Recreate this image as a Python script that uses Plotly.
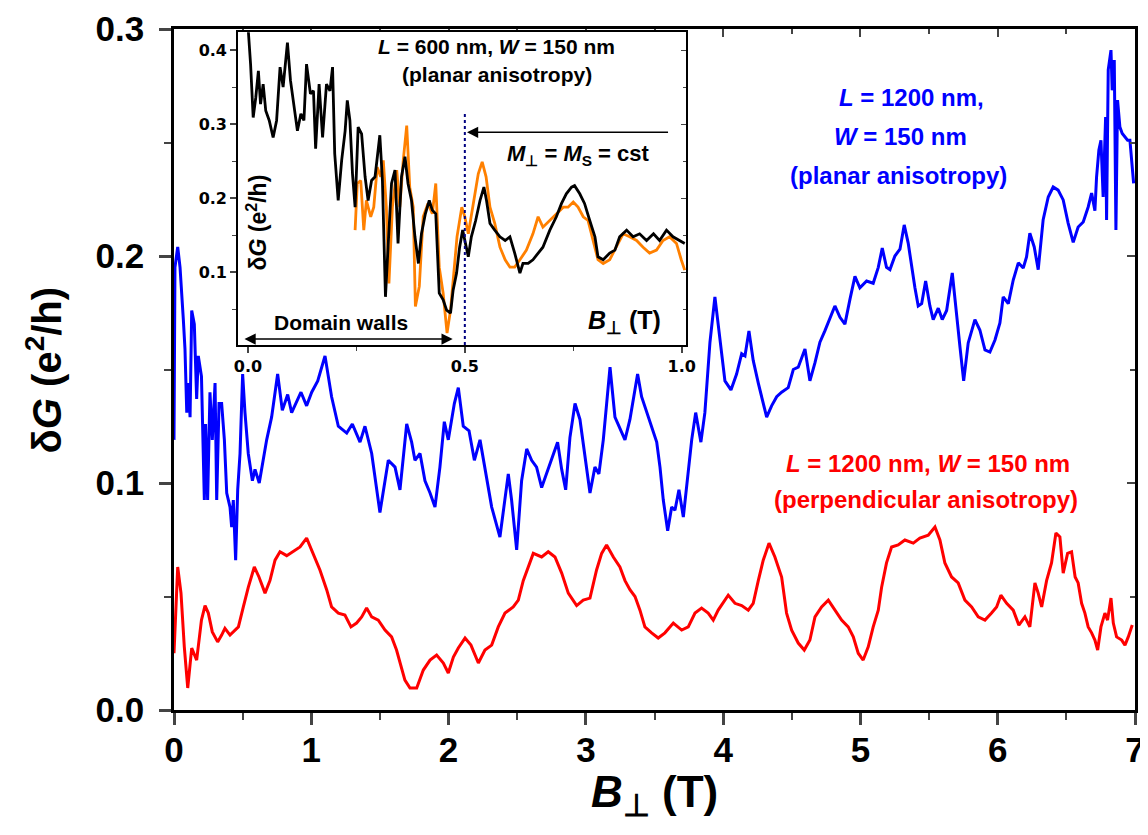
import plotly.graph_objects as go

# ---------------- main panel data ----------------
blue_B = [0.0, 0.007, 0.027, 0.044, 0.068, 0.08, 0.093, 0.105, 0.117, 0.129, 0.148, 0.165, 0.177, 0.2, 0.221, 0.23,
          0.245, 0.262, 0.279, 0.299, 0.311, 0.328, 0.347, 0.367, 0.384, 0.408, 0.42, 0.432, 0.449, 0.464, 0.481, 0.5,
          0.517, 0.541, 0.571, 0.59, 0.621, 0.65, 0.675, 0.711, 0.755, 0.789, 0.828, 0.857, 0.925, 0.966, 1.003, 1.047,
          1.1, 1.148, 1.197, 1.258, 1.299, 1.355, 1.391, 1.44, 1.5, 1.561, 1.61, 1.646, 1.695, 1.731, 1.755, 1.792,
          1.828, 1.865, 1.901, 1.937, 1.969, 1.998, 2.042, 2.071, 2.107, 2.149, 2.188, 2.229, 2.265, 2.314, 2.374,
          2.398, 2.435, 2.459, 2.496, 2.532, 2.569, 2.605, 2.641, 2.678, 2.714, 2.751, 2.794, 2.824, 2.853, 2.884,
          2.921, 2.957, 2.989, 3.03, 3.066, 3.095, 3.127, 3.176, 3.212, 3.285, 3.321, 3.377, 3.406, 3.443, 3.479,
          3.516, 3.54, 3.564, 3.596, 3.625, 3.649, 3.678, 3.71, 3.746, 3.771, 3.8, 3.838, 3.867, 3.904, 3.94, 3.977,
          4.013, 4.057, 4.098, 4.135, 4.159, 4.188, 4.219, 4.256, 4.292, 4.317, 4.353, 4.39, 4.426, 4.474, 4.511,
          4.547, 4.596, 4.632, 4.669, 4.705, 4.741, 4.778, 4.814, 4.851, 4.887, 4.924, 4.96, 4.996, 5.045, 5.093,
          5.13, 5.159, 5.19, 5.215, 5.251, 5.288, 5.319, 5.348, 5.373, 5.397, 5.421, 5.446, 5.475, 5.506, 5.53,
          5.567, 5.596, 5.628, 5.669, 5.701, 5.725, 5.752, 5.785, 5.834, 5.87, 5.907, 5.943, 5.98, 6.016, 6.04,
          6.077, 6.113, 6.15, 6.186, 6.21, 6.234, 6.266, 6.295, 6.331, 6.368, 6.404, 6.44, 6.477, 6.513, 6.55,
          6.586, 6.623, 6.659, 6.684, 6.708, 6.72, 6.737, 6.752, 6.768, 6.786, 6.793, 6.805, 6.825, 6.834, 6.849,
          6.861, 6.873, 6.89, 6.907, 6.927, 6.946, 6.963, 6.975, 6.99]
blue_G = [0.119, 0.195, 0.204, 0.195, 0.172, 0.159, 0.131, 0.144, 0.129, 0.176, 0.170, 0.137, 0.156, 0.147, 0.0925,
          0.126, 0.0925, 0.140, 0.119, 0.144, 0.0925, 0.135, 0.135, 0.119, 0.0956, 0.0894, 0.0806, 0.0925, 0.066,
          0.097, 0.113, 0.148, 0.131, 0.113, 0.101, 0.106, 0.100, 0.110, 0.119, 0.129, 0.148, 0.132, 0.139, 0.131,
          0.140, 0.134, 0.140, 0.145, 0.156, 0.138, 0.125, 0.122, 0.126, 0.118, 0.125, 0.113, 0.087, 0.110, 0.107,
          0.097, 0.126, 0.118, 0.110, 0.113, 0.101, 0.0956, 0.0894, 0.107, 0.127, 0.119, 0.135, 0.142, 0.125, 0.123,
          0.110, 0.119, 0.107, 0.0894, 0.0762, 0.0867, 0.104, 0.0925, 0.0705, 0.101, 0.115, 0.110, 0.107, 0.098,
          0.104, 0.111, 0.118, 0.106, 0.097, 0.120, 0.135, 0.128, 0.113, 0.0956, 0.107, 0.104, 0.119, 0.151, 0.129,
          0.119, 0.128, 0.148, 0.138, 0.131, 0.125, 0.118, 0.107, 0.0925, 0.079, 0.0894, 0.088, 0.097, 0.085, 0.107,
          0.119, 0.131, 0.118, 0.131, 0.162, 0.182, 0.162, 0.145, 0.141, 0.148, 0.157, 0.156, 0.167, 0.154, 0.144,
          0.135, 0.129, 0.134, 0.138, 0.140, 0.142, 0.150, 0.151, 0.159, 0.145, 0.153, 0.162, 0.167, 0.173, 0.178,
          0.173, 0.170, 0.181, 0.191, 0.186, 0.189, 0.188, 0.195, 0.2035, 0.195, 0.194, 0.200, 0.203, 0.2137, 0.2057,
          0.195, 0.186, 0.178, 0.179, 0.189, 0.178, 0.172, 0.177, 0.172, 0.176, 0.1925, 0.172, 0.160, 0.145, 0.1617,
          0.172, 0.1674, 0.1586, 0.1577, 0.163, 0.1705, 0.182, 0.179, 0.1894, 0.197, 0.1947, 0.1996, 0.210, 0.204,
          0.194, 0.216, 0.226, 0.2304, 0.229, 0.2247, 0.2145, 0.206, 0.2128, 0.215, 0.2216, 0.2277, 0.220, 0.2348,
          0.2467, 0.251, 0.226, 0.2612, 0.2159, 0.282, 0.2907, 0.273, 0.2863, 0.2115, 0.2687, 0.2568, 0.254, 0.2524,
          0.251, 0.251, 0.241, 0.232]

red_B = [0.0, 0.027, 0.051, 0.075, 0.1, 0.129, 0.165, 0.2, 0.226, 0.25, 0.279, 0.318, 0.347, 0.371, 0.408, 0.432,
         0.469, 0.505, 0.541, 0.585, 0.619, 0.663, 0.699, 0.736, 0.772, 0.821, 0.869, 0.918, 0.966, 1.015, 1.063,
         1.112, 1.148, 1.197, 1.245, 1.289, 1.33, 1.367, 1.403, 1.44, 1.488, 1.537, 1.585, 1.621, 1.646, 1.682, 1.719,
         1.768, 1.816, 1.865, 1.913, 1.962, 1.998, 2.035, 2.071, 2.12, 2.163, 2.217, 2.265, 2.314, 2.362, 2.411,
         2.471, 2.508, 2.544, 2.581, 2.617, 2.678, 2.726, 2.775, 2.824, 2.872, 2.933, 2.981, 3.03, 3.078, 3.115,
         3.151, 3.2, 3.248, 3.285, 3.321, 3.358, 3.394, 3.43, 3.479, 3.527, 3.576, 3.637, 3.698, 3.746, 3.795, 3.843,
         3.891, 3.928, 3.964, 4.037, 4.086, 4.135, 4.183, 4.219, 4.256, 4.292, 4.334, 4.377, 4.426, 4.462, 4.499,
         4.547, 4.591, 4.632, 4.669, 4.717, 4.766, 4.814, 4.863, 4.911, 4.948, 4.984, 5.02, 5.057, 5.093, 5.13,
         5.154, 5.19, 5.227, 5.275, 5.324, 5.385, 5.433, 5.494, 5.543, 5.579, 5.615, 5.664, 5.712, 5.761, 5.81,
         5.858, 5.907, 5.955, 5.992, 6.023, 6.065, 6.113, 6.154, 6.198, 6.234, 6.271, 6.295, 6.32, 6.356, 6.392,
         6.424, 6.453, 6.477, 6.509, 6.538, 6.564, 6.586, 6.611, 6.635, 6.659, 6.684, 6.708, 6.728, 6.752, 6.781,
         6.8, 6.825, 6.842, 6.866, 6.903, 6.927, 6.951, 6.98]
red_G = [0.025, 0.063, 0.0515, 0.0278, 0.0097, 0.0273, 0.022, 0.0396, 0.046, 0.0427, 0.0344, 0.030, 0.033, 0.036,
         0.033, 0.0344, 0.0366, 0.0454, 0.054, 0.063, 0.0586, 0.0515, 0.057, 0.066, 0.0697, 0.068, 0.0697, 0.0718,
         0.0757, 0.069, 0.0617, 0.053, 0.0454, 0.0427, 0.0418, 0.0366, 0.0383, 0.041, 0.0449, 0.041, 0.0396, 0.0352,
         0.0322, 0.0264, 0.0207, 0.0132, 0.0097, 0.0097, 0.0176, 0.022, 0.0242, 0.0207, 0.0163, 0.0233, 0.0273,
         0.0317, 0.0286, 0.0207, 0.0264, 0.0286, 0.0366, 0.0427, 0.0454, 0.0484, 0.057, 0.063, 0.069, 0.0674, 0.0697,
         0.0674, 0.0603, 0.0515, 0.046, 0.0484, 0.0493, 0.0617, 0.069, 0.0727, 0.0674, 0.063, 0.057, 0.053, 0.050,
         0.044, 0.0366, 0.034, 0.0317, 0.034, 0.0383, 0.0352, 0.0366, 0.0427, 0.0449, 0.0427, 0.0396, 0.044, 0.0506,
         0.047, 0.046, 0.044, 0.047, 0.057, 0.066, 0.0735, 0.0674, 0.0586, 0.0427, 0.0352, 0.0295, 0.0264, 0.0308,
         0.041, 0.0454, 0.0484, 0.044, 0.0396, 0.0366, 0.0322, 0.025, 0.022, 0.0278, 0.0366, 0.044, 0.054, 0.0648,
         0.0718, 0.0727, 0.0749, 0.0735, 0.0757, 0.077, 0.0806, 0.0749, 0.0648, 0.0586, 0.056, 0.0484, 0.0454, 0.041,
         0.0396, 0.0427, 0.0454, 0.0506, 0.047, 0.044, 0.0374, 0.041, 0.0366, 0.056, 0.0515, 0.0454, 0.057, 0.0648,
         0.078, 0.0762, 0.0603, 0.069, 0.0697, 0.0586, 0.056, 0.047, 0.0427, 0.0366, 0.034, 0.0308, 0.0264, 0.0366,
         0.0427, 0.0396, 0.0493, 0.0383, 0.0322, 0.0308, 0.0286, 0.0322, 0.0374]

# ---------------- inset data ----------------
ins_black_B = [0.001, 0.006, 0.012, 0.018, 0.024, 0.029, 0.035, 0.041, 0.049, 0.058, 0.066, 0.074, 0.081, 0.091,
               0.098, 0.106, 0.114, 0.122, 0.129, 0.135, 0.144, 0.151, 0.156, 0.164, 0.172, 0.181, 0.189, 0.195, 0.2,
               0.208, 0.216, 0.224, 0.229, 0.235, 0.241, 0.247, 0.254, 0.262, 0.27, 0.277, 0.285, 0.293, 0.298,
               0.304, 0.31, 0.317, 0.323, 0.331, 0.339, 0.346, 0.354, 0.362, 0.369, 0.377, 0.385, 0.393, 0.4, 0.409,
               0.418, 0.425, 0.433, 0.441, 0.45, 0.458, 0.467, 0.473, 0.481, 0.488, 0.495, 0.501, 0.508, 0.515,
               0.525, 0.535, 0.544, 0.55, 0.558, 0.569, 0.581, 0.593, 0.604, 0.615, 0.627, 0.634, 0.646, 0.657,
               0.669, 0.68, 0.696, 0.711, 0.723, 0.734, 0.746, 0.753, 0.765, 0.776, 0.788, 0.8, 0.807, 0.819, 0.834,
               0.846, 0.857, 0.873, 0.888, 0.903, 0.919, 0.935, 0.949, 0.965, 0.98, 0.995, 1.007]
ins_black_G = [0.424, 0.381, 0.309, 0.336, 0.372, 0.327, 0.354, 0.318, 0.305, 0.282, 0.305, 0.377, 0.350, 0.410,
               0.359, 0.327, 0.291, 0.314, 0.305, 0.381, 0.341, 0.345, 0.267, 0.354, 0.282, 0.354, 0.345, 0.377,
               0.260, 0.197, 0.251, 0.291, 0.332, 0.305, 0.233, 0.188, 0.296, 0.287, 0.229, 0.197, 0.224, 0.229,
               0.251, 0.285, 0.224, 0.067, 0.134, 0.220, 0.238, 0.139, 0.229, 0.256, 0.220, 0.197, 0.148, 0.112,
               0.152, 0.179, 0.197, 0.184, 0.179, 0.072, 0.063, 0.049, 0.045, 0.076, 0.099, 0.134, 0.157, 0.139,
               0.121, 0.148, 0.170, 0.197, 0.215, 0.197, 0.166, 0.157, 0.148, 0.143, 0.148, 0.126, 0.099, 0.112,
               0.112, 0.117, 0.126, 0.134, 0.157, 0.175, 0.193, 0.206, 0.215, 0.217, 0.206, 0.193, 0.170, 0.148,
               0.121, 0.117, 0.126, 0.130, 0.148, 0.157, 0.148, 0.152, 0.143, 0.152, 0.143, 0.157, 0.148, 0.143, 0.139]

ins_orange_B = [0.247, 0.252, 0.26, 0.267, 0.273, 0.283, 0.29, 0.298, 0.306, 0.312, 0.319, 0.325, 0.333, 0.343,
                0.35, 0.358, 0.366, 0.373, 0.381, 0.386, 0.395, 0.404, 0.415, 0.425, 0.433, 0.441, 0.45, 0.459, 0.467,
                0.475, 0.482, 0.493, 0.5, 0.508, 0.518, 0.531, 0.54, 0.549, 0.558, 0.569, 0.581, 0.593, 0.604, 0.615,
                0.627, 0.642, 0.657, 0.669, 0.68, 0.696, 0.711, 0.727, 0.738, 0.75, 0.761, 0.773, 0.784, 0.796,
                0.807, 0.819, 0.834, 0.849, 0.865, 0.88, 0.896, 0.911, 0.926, 0.942, 0.957, 0.972, 0.988, 0.999, 1.007]
ins_orange_G = [0.157, 0.220, 0.224, 0.157, 0.197, 0.175, 0.188, 0.242, 0.229, 0.251, 0.188, 0.085, 0.188, 0.238,
                0.188, 0.251, 0.298, 0.215, 0.188, 0.054, 0.081, 0.175, 0.193, 0.179, 0.220, 0.107, 0.072, 0.018,
                0.049, 0.099, 0.148, 0.188, 0.175, 0.152, 0.188, 0.233, 0.249, 0.229, 0.188, 0.166, 0.134, 0.117,
                0.107, 0.107, 0.117, 0.130, 0.152, 0.175, 0.161, 0.170, 0.179, 0.188, 0.188, 0.195, 0.188, 0.175,
                0.170, 0.143, 0.117, 0.112, 0.117, 0.134, 0.152, 0.148, 0.143, 0.134, 0.126, 0.130, 0.143, 0.148,
                0.139, 0.117, 0.103]

SAT_FIELD = 0.5          # dotted vertical marker in the inset (T)
SAT_LINE_TOP = 0.316     # top of the dotted marker (e^2/h)

MAIN_X = [0, 7]
MAIN_Y = [0, 0.3]
INS_X = [-0.023, 1.01]
INS_Y = [0.002, 0.425]

TICKFONT = "DejaVu Sans"
TXTFONT = "Liberation Sans, Arial, sans-serif"

fig = go.Figure()
fig.add_trace(go.Scatter(x=blue_B, y=blue_G, mode="lines", line=dict(color="#0000FF", width=3),
                         showlegend=False, hoverinfo="skip"))
fig.add_trace(go.Scatter(x=red_B, y=red_G, mode="lines", line=dict(color="#FF0000", width=3),
                         showlegend=False, hoverinfo="skip"))
fig.add_trace(go.Scatter(x=ins_orange_B, y=ins_orange_G, mode="lines", line=dict(color="#FF8000", width=2.8),
                         xaxis="x2", yaxis="y2", showlegend=False, hoverinfo="skip"))
fig.add_trace(go.Scatter(x=ins_black_B, y=ins_black_G, mode="lines", line=dict(color="#000000", width=2.8),
                         xaxis="x2", yaxis="y2", showlegend=False, hoverinfo="skip"))
# empty helper traces so the mirrored inward-tick axes are drawn
fig.add_trace(go.Scatter(x=[], y=[], xaxis="x", yaxis="y3", showlegend=False))
fig.add_trace(go.Scatter(x=[], y=[], xaxis="x3", yaxis="y", showlegend=False))
fig.add_trace(go.Scatter(x=[], y=[], xaxis="x2", yaxis="y4", showlegend=False))

main_tick = dict(family=TXTFONT, size=35, color="black", weight="bold")
ins_tick = dict(family=TICKFONT, size=16, color="black", weight="bold")

fig.update_layout(
    width=1140, height=827,
    margin=dict(l=166, r=13, t=21, b=125, autoexpand=False),
    paper_bgcolor="white", plot_bgcolor="white",
    xaxis=dict(domain=[0, 1], range=MAIN_X, anchor="y", showline=True, linecolor="black", linewidth=2.5,
               mirror=True, showgrid=False, zeroline=False, ticks="outside", ticklen=12, tickwidth=2.5,
               tick0=0, dtick=1, tickfont=main_tick, automargin=False, ticklabelstandoff=-5,
               minor=dict(ticks="outside", ticklen=7, tickwidth=2, dtick=0.5, tick0=0, showgrid=False)),
    yaxis=dict(domain=[0, 1], range=MAIN_Y, anchor="x", showline=True, linecolor="black", linewidth=2.5,
               mirror=True, showgrid=False, zeroline=False, ticks="outside", ticklen=12, tickwidth=2.5,
               tick0=0, dtick=0.1, tickformat=".1f", tickfont=main_tick, automargin=False,
               ticklabelstandoff=8,
               minor=dict(ticks="outside", ticklen=7, tickwidth=2, dtick=0.05, tick0=0, showgrid=False)),
    xaxis3=dict(overlaying="x", side="top", anchor="y", range=MAIN_X, showticklabels=False, showgrid=False,
                zeroline=False, ticks="inside", ticklen=8, tickwidth=2, tick0=0, dtick=1, automargin=False,
                minor=dict(ticks="inside", ticklen=5, tickwidth=1.5, dtick=0.5, tick0=0, showgrid=False)),
    yaxis3=dict(overlaying="y", side="right", anchor="x", range=MAIN_Y, showticklabels=False, showgrid=False,
                zeroline=False, ticks="inside", ticklen=8, tickwidth=2, tick0=0, dtick=0.1, automargin=False,
                minor=dict(ticks="inside", ticklen=5, tickwidth=1.5, dtick=0.05, tick0=0, showgrid=False)),
    xaxis2=dict(domain=[0.0666, 0.5328], range=INS_X, anchor="y2", showline=True, linecolor="black", linewidth=1.6,
                mirror=True, showgrid=False, zeroline=False, ticks="outside", ticklen=6, tickwidth=1.5,
                tick0=0, dtick=0.5, tickformat=".1f", tickfont=ins_tick, automargin=False,
                minor=dict(ticks="outside", ticklen=4, tickwidth=1.2, dtick=0.25, tick0=0, showgrid=False)),
    yaxis2=dict(domain=[0.536, 0.9963], range=INS_Y, anchor="x2", showline=True, linecolor="black", linewidth=1.6,
                mirror=True, showgrid=False, zeroline=False, ticks="outside", ticklen=6, tickwidth=1.5,
                tick0=0, dtick=0.1, tickformat=".1f", tickfont=ins_tick, automargin=False,
                minor=dict(ticks="outside", ticklen=4, tickwidth=1.2, dtick=0.05, tick0=0, showgrid=False)),
    yaxis4=dict(overlaying="y2", side="right", anchor="x2", range=INS_Y, showticklabels=False, showgrid=False,
                zeroline=False, ticks="inside", ticklen=5, tickwidth=1.3, tick0=0, dtick=0.1, automargin=False,
                minor=dict(ticks="inside", ticklen=3, tickwidth=1, dtick=0.05, tick0=0, showgrid=False)),
)

fig.add_shape(type="line", xref="x2", yref="y2", x0=SAT_FIELD, x1=SAT_FIELD, y0=INS_Y[0], y1=SAT_LINE_TOP,
              line=dict(color="#000080", width=2, dash="dot"))

def txt(x, y, text, size, color="black", angle=0, xanchor="center"):
    fig.add_annotation(x=x, y=y, xref="paper", yref="paper", text=text, showarrow=False, textangle=angle,
                       xanchor=xanchor, yanchor="middle",
                       font=dict(family=TXTFONT, size=size, color=color, weight="bold"))

# axis titles
txt(0.5, -0.125, "<i>B</i><sub>⊥</sub> (T)", 44)
txt(-0.135, 0.499, "δ<i>G</i> (e<sup>2</sup>/h)", 40, angle=-90)

# main-panel labels
txt(0.767, 0.899, "<i>L</i> = 1200 nm,", 24, "#0000FF")
txt(0.7555, 0.842, "<i>W</i> = 150 nm", 24, "#0000FF")
txt(0.7534, 0.7856, "(planar anisotropy)", 24, "#0000FF")
txt(0.7846, 0.3627, "<i>L</i> = 1200 nm, <i>W</i> = 150 nm", 24, "#FF0000")
txt(0.7825, 0.3084, "(perpendicular anisotropy)", 24, "#FF0000")

# inset labels
txt(0.3361, 0.9736, "<i>L</i> = 600 nm, <i>W</i> = 150 nm", 21)
txt(0.3366, 0.9325, "(planar anisotropy)", 21)
txt(0.4214, 0.815, "<i>M</i><sub>⊥</sub> = <i>M</i><sub>S</sub> = cst", 22)
txt(0.0864, 0.716, "δ<i>G</i> (e<sup>2</sup>/h)", 23, angle=-90)
txt(0.1738, 0.5683, "Domain walls", 21)
txt(0.4693, 0.5698, "<i>B</i><sub>⊥</sub> (T)", 25)

# arrows in inset
fig.add_annotation(xref="x2", yref="y2", axref="x2", ayref="y2", x=0.505, y=0.289, ax=0.972, ay=0.289,
                   text="", showarrow=True, arrowhead=2, arrowsize=1.4, arrowwidth=1.6, arrowcolor="black",
                   standoff=0, startstandoff=0)
fig.add_annotation(xref="x2", yref="y2", axref="x2", ayref="y2", x=0.472, y=0.010, ax=-0.0115, ay=0.010,
                   text="", showarrow=True, arrowhead=2, startarrowhead=2, arrowside="end+start",
                   arrowsize=1.4, startarrowsize=1.4, arrowwidth=1.6, arrowcolor="black",
                   standoff=0, startstandoff=0)

fig.write_html("out.html")
